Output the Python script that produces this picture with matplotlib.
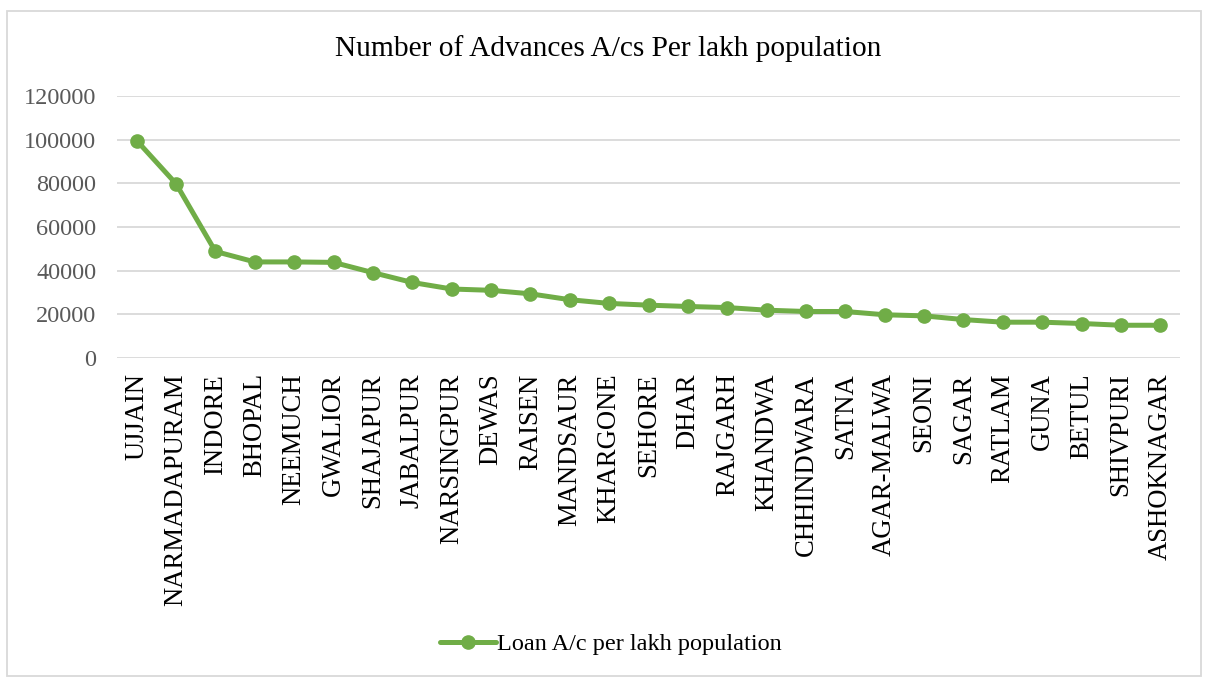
import matplotlib
matplotlib.use("Agg")
import matplotlib.pyplot as plt
from matplotlib.patches import Rectangle

districts = [
    "UJJAIN", "NARMADAPURAM", "INDORE", "BHOPAL", "NEEMUCH", "GWALIOR",
    "SHAJAPUR", "JABALPUR", "NARSINGPUR", "DEWAS", "RAISEN", "MANDSAUR",
    "KHARGONE", "SEHORE", "DHAR", "RAJGARH", "KHANDWA", "CHHINDWARA",
    "SATNA", "AGAR-MALWA", "SEONI", "SAGAR", "RATLAM", "GUNA", "BETUL",
    "SHIVPURI", "ASHOKNAGAR",
]
loan_per_lakh = [
    99600, 79800, 48800, 44000, 44000, 43800,
    39100, 34600, 31600, 31000, 29400, 26700,
    25000, 24200, 23600, 23100, 21900, 21300,
    21300, 19800, 19300, 17600, 16400, 16400, 15800,
    15000, 15000,
]
y_ticks = [0, 20000, 40000, 60000, 80000, 100000, 120000]

plt.rcParams["font.family"] = ["Liberation Serif", "DejaVu Serif"]

W, H = 1205, 677
fig = plt.figure(figsize=(W / 100, H / 100), dpi=100)
ax = fig.add_axes([117 / W, 1 - 358 / H, 1063 / W, 262 / H])

green = "#70AD47"
x = list(range(len(districts)))
ax.plot(x, loan_per_lakh, color=green, linewidth=3.6, marker="o",
        markersize=9.5, solid_capstyle="round", solid_joinstyle="round",
        label="Loan A/c per lakh population", zorder=3)

ax.set_xlim(-0.5, len(districts) - 0.5)
ax.set_ylim(0, 120000)
ax.set_yticks(y_ticks)
ax.set_yticklabels([str(v) for v in y_ticks])
ax.set_xticks(x)
ax.set_xticklabels(districts, rotation=90, va="top", ha="center")

ax.tick_params(axis="y", length=0, pad=15, labelsize=17.5, labelcolor="#595959")
ax.tick_params(axis="x", length=0, pad=11, labelsize=19.2, labelcolor="#000000")
ax.grid(axis="y", color="#D9D9D9", linewidth=1.3)
ax.set_axisbelow(True)
for s in ax.spines.values():
    s.set_visible(False)

fig.text(608 / W, 1 - 49 / H, "Number of Advances A/cs Per lakh population",
         ha="center", va="center", fontsize=21.2, color="#000000")

leg = fig.legend(loc="center", bbox_to_anchor=(611 / W, 1 - 644 / H),
                 frameon=False, fontsize=17.5, handlelength=2.3,
                 handletextpad=0.05)

fig.add_artist(Rectangle((7 / W, 1 - 676 / H), 1194 / W, 665 / H,
                         transform=fig.transFigure, fill=False,
                         edgecolor="#D9D9D9", linewidth=1.3))

fig.savefig("out.png", dpi=100)
